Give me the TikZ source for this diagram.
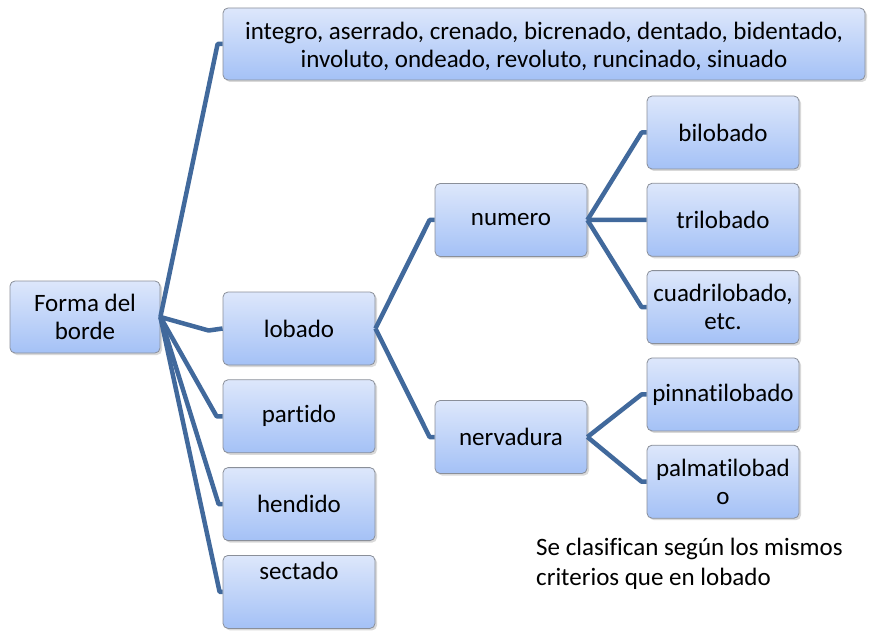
\documentclass[tikz,border=0pt]{standalone}
\usepackage{fontspec}
\setmainfont{Carlito}[Ligatures=NoCommon]
\usetikzlibrary{positioning}
\usetikzlibrary{shadows}
\definecolor{boxtop}{HTML}{DDE7FB}
\definecolor{boxbot}{HTML}{A4C1F6}
\definecolor{boxline}{HTML}{8A8F99}
\definecolor{linkblue}{HTML}{41699C}
\tikzset{main node/.style={rectangle,rounded corners=5pt,draw=boxline,line width=0.8pt,top color=boxtop,bottom color=boxbot,minimum width=152pt,minimum height=73pt,align=center,inner sep=1pt,font=\fontsize{25}{27.5}\selectfont,drop shadow={shadow xshift=2pt,shadow yshift=-2pt,opacity=0.25,fill=black!60}}}
\tikzset{link/.style={draw=linkblue,line width=4.5pt,line join=round}}

\begin{document}
\begin{tikzpicture}[x=1pt,y=-1pt]
    \useasboundingbox (0,0) rectangle (881,631);

    \node[main node,minimum width=150pt,minimum height=72pt] (forma) at (85,317) {Forma del\\borde};
    \node[main node,minimum width=642pt,minimum height=72pt] (tipos) at (544,44) {\rule{0pt}{22pt}integro, aserrado, crenado, bicrenado, dentado, bidentado,\\involuto, ondeado, revoluto, runcinado, sinuado};

    \node[main node] (lobado) at (299,328.5) {lobado};
    \node[main node] (partido) [below = 14pt of lobado] {partido};
    \node[main node] (hendido) [below = 14pt of partido] {hendido};
    \node[main node] (sectado) [below = 14pt of hendido] {sectado\\[6pt]\strut};

    \node[main node] (numero) at (511,220) {numero};
    \node[main node] (nervadura) at (511,437) {nervadura};

    \node[main node] (bilobado) at (723,132.5) {bilobado};
    \node[main node] (trilobado) [below = 13.5pt of bilobado] {trilobado};
    \node[main node] (cuadri) [below = 13.5pt of trilobado] {cuadrilobado,\\etc.};
    \node[main node] (pinnati) [below = 13.5pt of cuadri] {pinnatilobado};
    \node[main node] (palmati) [below = 13.5pt of pinnati] {palmatilobad\\o};

    \node[align=left,anchor=north west,inner sep=0pt,font=\fontsize{25}{30}\selectfont] (nota) at (536,538) {Se clasifican según los mismos\\criterios que en lobado};

    \draw[link] (forma.east) -- ([xshift=-5pt]tipos.west) -- (tipos.west);
    \draw[link] (forma.east) -- ([xshift=-14pt,yshift=-2pt]lobado.west) -- (lobado.west);
    \draw[link] (forma.east) -- ([xshift=-6pt]partido.west) -- (partido.west);
    \draw[link] (forma.east) -- ([xshift=-4pt]hendido.west) -- (hendido.west);
    \draw[link] (forma.east) -- ([xshift=-3pt]sectado.west) -- (sectado.west);

    \draw[link] (lobado.east) -- ([xshift=-5pt]numero.west) -- (numero.west);
    \draw[link] (lobado.east) -- ([xshift=-5pt]nervadura.west) -- (nervadura.west);

    \draw[link] (numero.east) -- ([xshift=-5pt]bilobado.west) -- (bilobado.west);
    \draw[link] (numero.east) -- ([xshift=-5pt]trilobado.west) -- (trilobado.west);
    \draw[link] (numero.east) -- ([xshift=-5pt]cuadri.west) -- (cuadri.west);

    \draw[link] (nervadura.east) -- ([xshift=-5pt]pinnati.west) -- (pinnati.west);
    \draw[link] (nervadura.east) -- ([xshift=-5pt]palmati.west) -- (palmati.west);
\end{tikzpicture}
\end{document}
